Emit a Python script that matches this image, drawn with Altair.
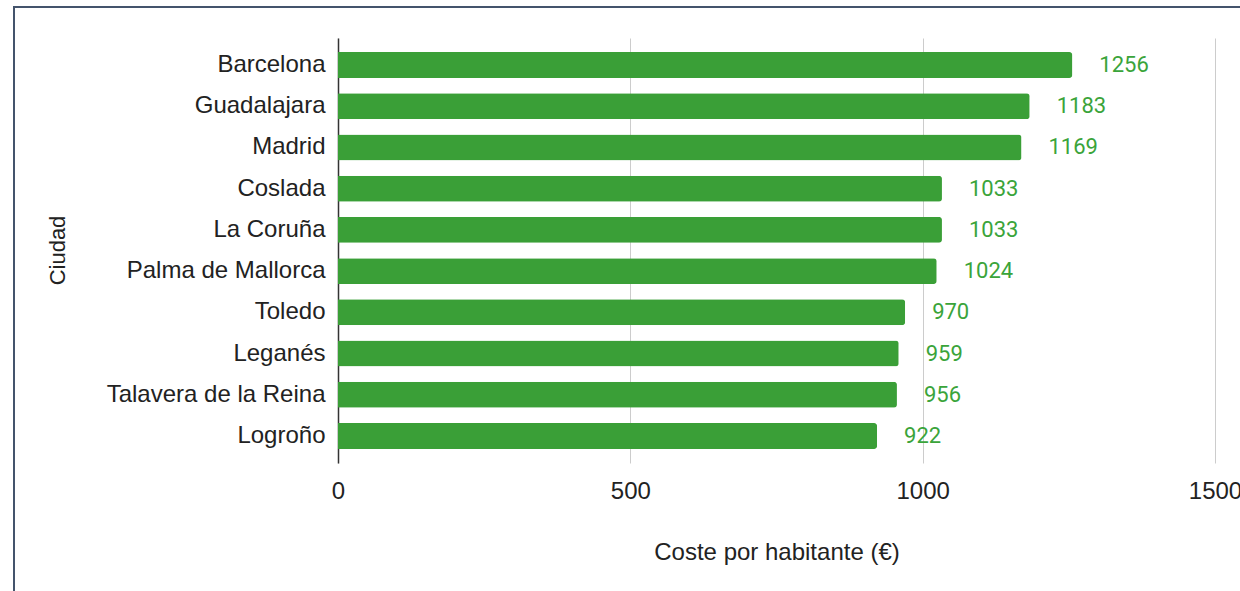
import altair as alt
import pandas as pd

ciudades = ["Barcelona", "Guadalajara", "Madrid", "Coslada", "La Coruña",
            "Palma de Mallorca", "Toledo", "Leganés", "Talavera de la Reina", "Logroño"]
costes = [1256, 1183, 1169, 1033, 1033, 1024, 970, 959, 956, 922]
x_ticks = [0, 500, 1000, 1500]

df = pd.DataFrame({"Ciudad": ciudades, "Coste": costes})

GREEN = "#3a9f37"
LABEL_GREEN = "#3aa43a"
TEXT = "#222222"

x_enc = alt.X("Coste:Q",
              scale=alt.Scale(domain=[0, 1500], nice=False),
              axis=alt.Axis(values=x_ticks, title="Coste por habitante (€)",
                            format="d",
                            grid=True, gridColor="#cccccc", gridWidth=1,
                            domain=False, ticks=False,
                            labelFont="Liberation Sans", labelFontSize=24,
                            labelColor=TEXT, labelPadding=16,
                            labelFlush=False,
                            titleFont="Liberation Sans", titleFontSize=24,
                            titleFontWeight="normal", titleColor=TEXT,
                            titleY=89, titleBaseline="middle"))
y_enc = alt.Y("Ciudad:N", sort=ciudades,
              scale=alt.Scale(paddingInner=0.37, paddingOuter=0.34),
              axis=alt.Axis(title="Ciudad", domain=True, domainColor="#333333",
                            domainWidth=1.5, ticks=False, grid=False,
                            labelFont="Liberation Sans", labelFontSize=24,
                            labelColor=TEXT, labelPadding=13, labelLimit=0,
                            titleFont="Liberation Sans", titleFontSize=22,
                            titleFontWeight="normal", titleColor=TEXT,
                            titleX=-281, titleY=212, titleBaseline="middle",
                            titleAngle=270))

bars = alt.Chart(df).mark_bar(color=GREEN, cornerRadiusEnd=3).encode(x=x_enc, y=y_enc)

labels = alt.Chart(df).mark_text(align="left", baseline="middle", dx=27,
                                 font="Roboto", fontSize=22, color=LABEL_GREEN).encode(
    x="Coste:Q", y=alt.Y("Ciudad:N", sort=ciudades), text="Coste:Q")

border = alt.Chart(pd.DataFrame({"a": [0]})).mark_rect(
    fill=None, stroke="#44546c", strokeWidth=2, clip=False).encode(
    x=alt.value(-324), x2=alt.value(920), y=alt.value(-31), y2=alt.value(570))

chart = alt.layer(border, bars, labels).properties(
    width=877, height=425,
    padding={"left": 338, "top": 38, "right": 25, "bottom": 128},
    autosize=alt.AutoSizeParams(type="none"),
    background="white",
).configure_view(stroke=None)

chart.save("out.html", embed_options={"renderer": "svg", "actions": False})
